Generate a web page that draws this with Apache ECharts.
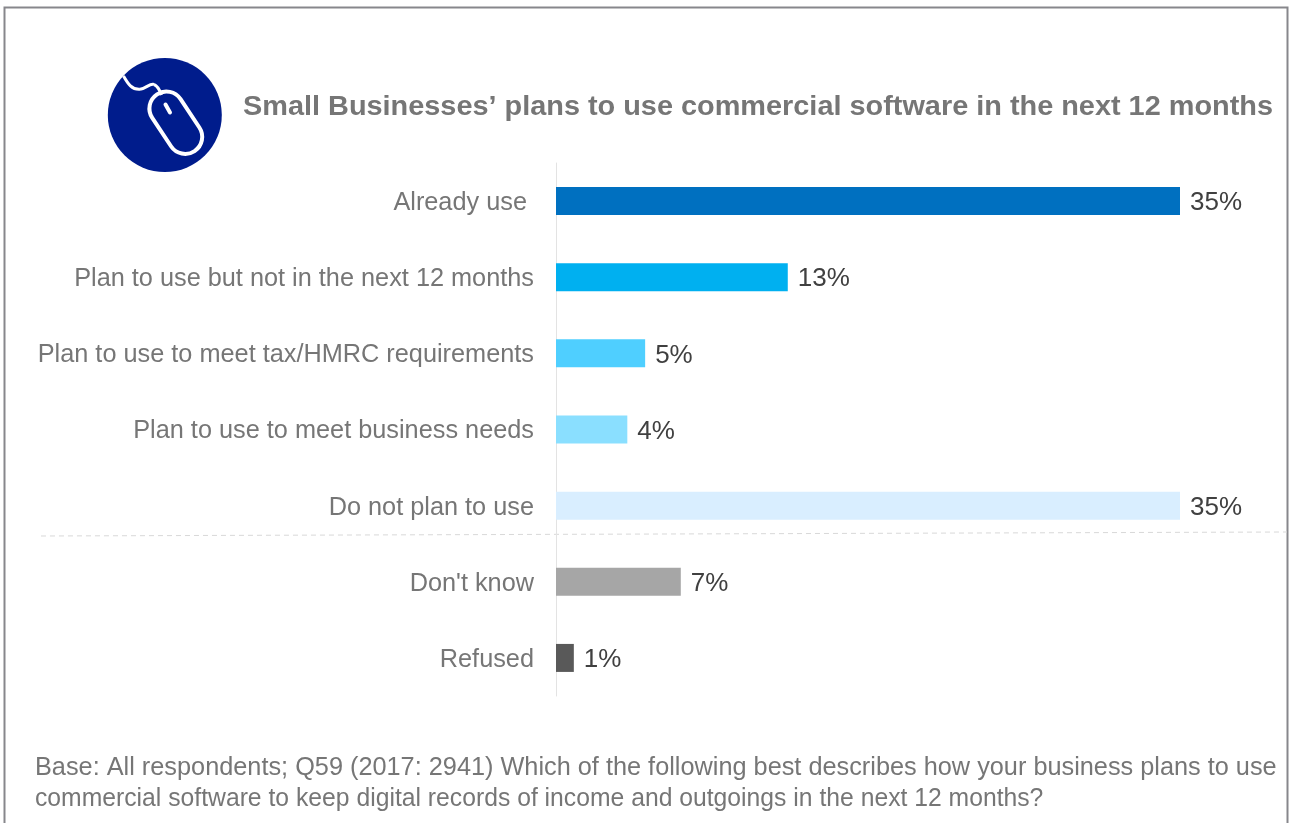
<!DOCTYPE html>
<html><head><meta charset="utf-8">
<style>html,body{margin:0;padding:0;background:#fff}#c{width:1290px;height:823px}</style>
<script src="https://cdn.jsdelivr.net/npm/echarts@6/dist/echarts.min.js"></script>
</head><body><div id="c"></div>
<script>
const categories = ["Already use ", "Plan to use but not in the next 12 months", "Plan to use to meet tax/HMRC requirements", "Plan to use to meet business needs", "Do not plan to use", "Don't know", "Refused"];
const values = [35, 13, 5, 4, 35, 7, 1];
const barColors = ["#0070C0", "#00B0F0", "#4FCFFF", "#8ADFFF", "#D9EEFF", "#A6A6A6", "#595959"];
const titleText = "Small Businesses’ plans to use commercial software in the next 12 months";
const baseLines = ["Base: All respondents; Q59 (2017: 2941) Which of the following best describes how your business plans to use", "commercial software to keep digital records of income and outgoings in the next 12 months?"];

const FONT = '"Liberation Sans", Arial, sans-serif';
const chart = echarts.init(document.getElementById('c'), null, {renderer: 'canvas'});
const wire = {fill: 'none', stroke: '#fff', lineWidth: 3};
chart.setOption({
  animation: false,
  backgroundColor: '#fff',
  grid: {left: 556, top: 163, width: 624, height: 533, containLabel: false},
  xAxis: {type: 'value', min: 0, max: 35, show: false},
  yAxis: {type: 'category', inverse: true, data: categories,
    axisLine: {show: true, lineStyle: {color: '#e3e3e3', width: 1}},
    axisTick: {show: false},
    axisLabel: {margin: 22, formatter: '{a|{value}}',
      rich: {a: {fontFamily: FONT, fontSize: 25.3, color: '#767676', padding: [4, 0, 0, 0]}}}},
  series: [{type: 'bar', barWidth: 28,
    data: values.map((v, i) => ({value: v, itemStyle: {color: barColors[i]}})),
    label: {show: true, position: 'right', distance: 10, offset: [0, 2], formatter: '{c}%',
      fontFamily: FONT, fontSize: 26, color: '#404040'}}],
  graphic: [
    {type: 'rect', silent: true, shape: {x: 4.5, y: 7.5, width: 1283, height: 830},
      style: {fill: 'none', stroke: '#87878c', lineWidth: 2}},
    {type: 'line', silent: true, shape: {x1: 41, y1: 536, x2: 1287, y2: 532},
      style: {stroke: '#d9d9d9', lineWidth: 1, lineDash: [5, 4]}},
    {type: 'circle', silent: true, shape: {cx: 164.8, cy: 115, r: 57}, style: {fill: '#001C8C'}},
    {type: 'bezierCurve', silent: true, shape: {x1: 123.5, y1: 76, cpx1: 128, cpy1: 84, cpx2: 132, cpy2: 90, x2: 140, y2: 89.3}, style: wire},
    {type: 'bezierCurve', silent: true, shape: {x1: 140, y1: 89.3, cpx1: 146, cpy1: 88.5, cpx2: 150, cpy2: 83, x2: 154, y2: 84.5}, style: wire},
    {type: 'bezierCurve', silent: true, shape: {x1: 154, y1: 84.5, cpx1: 158, cpy1: 86, cpx2: 160, cpy2: 91, x2: 161.5, y2: 95}, style: wire},
    {type: 'rect', silent: true, x: 175.8, y: 122.7, rotation: 0.585,
      shape: {x: -17, y: -34, width: 34, height: 68, r: 17},
      style: {fill: 'none', stroke: '#fff', lineWidth: 4}},
    {type: 'line', silent: true, shape: {x1: 165.5, y1: 104.5, x2: 170, y2: 112.5},
      style: {stroke: '#fff', lineWidth: 4, lineCap: 'round'}},
    {type: 'text', silent: true, x: 243, y: 93, scaleX: 1.031, style: {text: titleText, fontFamily: FONT, fontSize: 28, fontWeight: 'bold', fill: '#767676'}},
    {type: 'text', silent: true, x: 35, y: 756, style: {text: baseLines[0], fontFamily: FONT, fontSize: 25.3, fill: '#767676'}},
    {type: 'text', silent: true, x: 35, y: 787, scaleX: 0.977, style: {text: baseLines[1], fontFamily: FONT, fontSize: 25.3, fill: '#767676'}}
  ]
});
</script></body></html>
